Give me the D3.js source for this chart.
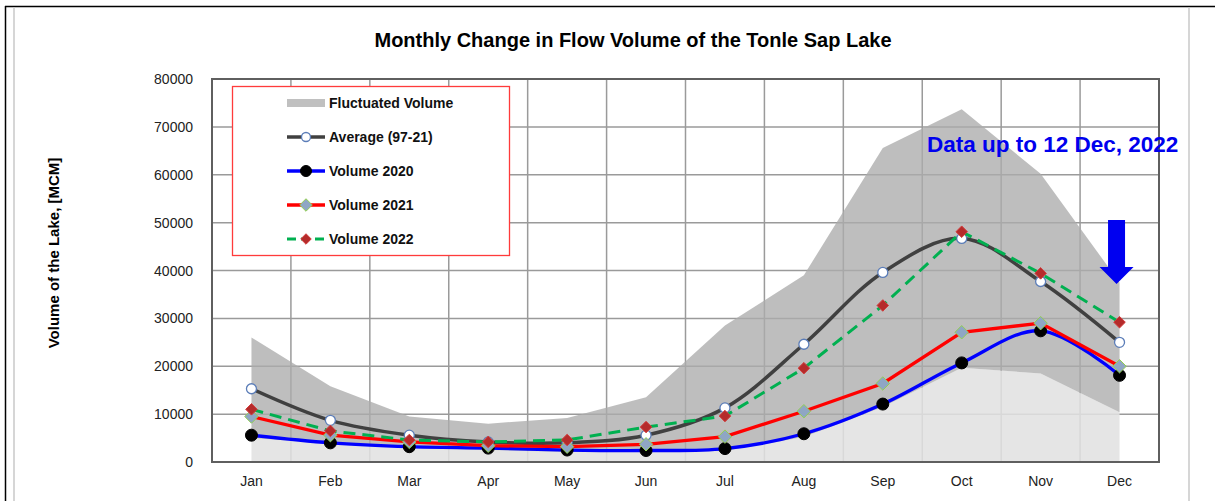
<!DOCTYPE html>
<html>
<head>
<meta charset="utf-8">
<script src="https://cdn.jsdelivr.net/npm/d3@7"></script>
<style>
  body { margin: 0; background: #fff; }
  text { font-family: "Liberation Sans", Arial, sans-serif; }
</style>
</head>
<body>
<div id="chart"></div>
<script>
// data (MCM)
var months = ["Jan","Feb","Mar","Apr","May","Jun","Jul","Aug","Sep","Oct","Nov","Dec"]
var volMax = [26000, 15800, 9500, 8000, 9200, 13500, 28500, 39000, 65600, 73700, 60200, 37500]
var volMin = [5000, 3900, 3000, 2500, 2100, 2100, 2300, 5200, 11500, 19700, 18500, 10400]
var avg9721 = [15300, 8700, 5600, 4200, 4000, 5600, 11300, 24600, 39600, 46700, 37700, 25000]
var vol2020 = [5600, 4000, 3200, 2900, 2500, 2400, 2800, 5900, 12100, 20700, 27400, 18100]
var vol2021 = [9500, 5600, 4200, 3400, 3200, 3700, 5300, 10600, 16400, 27100, 29000, 20000]
var vol2022 = [11000, 6500, 4600, 4200, 4600, 7300, 9600, 19600, 32700, 48100, 39400, 29200]
var yTicks = [0, 10000, 20000, 30000, 40000, 50000, 60000, 70000, 80000]

var width = 1215
var height = 501
var pLeft = 212, pRight = 1159, pTop = 79, pBottom = 462

var svg = d3.select("#chart")
  .append("svg")
    .attr("width", width)
    .attr("height", height)

var x = d3.scaleBand()
  .domain(months)
  .range([pLeft, pRight])
  .padding(0)

var y = d3.scaleLinear()
  .domain([0, 80000])
  .range([pBottom, pTop])

function cx(i){ return x(months[i]) + x.bandwidth() / 2 }

// outer frame
svg.append("line").attr("x1", 5).attr("x2", width).attr("y1", 6.5).attr("y2", 6.5)
  .attr("stroke", "#000").attr("stroke-width", 1.5)
svg.append("line").attr("x1", 5.5).attr("x2", 5.5).attr("y1", 6).attr("y2", height)
  .attr("stroke", "#000").attr("stroke-width", 1.5)
svg.append("line").attr("x1", 14).attr("x2", 14).attr("y1", 7).attr("y2", height)
  .attr("stroke", "#c8c8c8").attr("stroke-width", 1.5)
svg.append("line").attr("x1", 1189).attr("x2", 1189).attr("y1", 7).attr("y2", height)
  .attr("stroke", "#c8c8c8").attr("stroke-width", 1.5)

// title
svg.append("text")
  .attr("x", 633)
  .attr("y", 47)
  .attr("text-anchor", "middle")
  .attr("font-size", "20px")
  .attr("font-weight", "bold")
  .text("Monthly Change in Flow Volume of the Tonle Sap Lake")

// grid
var grid = svg.append("g")
grid.selectAll(".hg")
  .data(yTicks)
  .enter().append("line")
    .attr("x1", pLeft).attr("x2", pRight)
    .attr("y1", d => y(d)).attr("y2", d => y(d))
    .attr("stroke", "#9a9a9a").attr("stroke-width", 1.5)
grid.selectAll(".vg")
  .data(months.slice(1))
  .enter().append("line")
    .attr("x1", d => x(d)).attr("x2", d => x(d))
    .attr("y1", pTop).attr("y2", pBottom)
    .attr("stroke", "#9a9a9a").attr("stroke-width", 1.5)

// fluctuated volume: light area 0..min, dark band min..max
var idx = d3.range(months.length)
svg.append("path")
  .datum(idx)
  .attr("fill", "#e1e1e1").attr("fill-opacity", 0.87)
  .attr("d", d3.area().x(i => cx(i)).y0(y(0)).y1(i => y(volMin[i])))
svg.append("path")
  .datum(idx)
  .attr("fill", "#acacac").attr("fill-opacity", 0.78)
  .attr("d", d3.area().x(i => cx(i)).y0(i => y(volMin[i])).y1(i => y(volMax[i])))

// axes labels
svg.append("g").selectAll("text")
  .data(yTicks)
  .enter().append("text")
    .attr("x", 193)
    .attr("y", d => y(d) + 5)
    .attr("text-anchor", "end")
    .attr("font-size", "14px")
    .attr("fill", "#222")
    .text(d => d)

svg.append("g").selectAll("text")
  .data(months)
  .enter().append("text")
    .attr("x", d => x(d) + x.bandwidth() / 2)
    .attr("y", 486)
    .attr("text-anchor", "middle")
    .attr("font-size", "14px")
    .attr("fill", "#222")
    .text(d => d)

svg.append("text")
  .attr("transform", "translate(59,253) rotate(-90)")
  .attr("text-anchor", "middle")
  .attr("font-size", "15px")
  .attr("font-weight", "bold")
  .text("Volume of the Lake, [MCM]")

// plot border
svg.append("rect")
  .attr("x", pLeft).attr("y", pTop)
  .attr("width", pRight - pLeft).attr("height", pBottom - pTop)
  .attr("fill", "none").attr("stroke", "#5f5f5f").attr("stroke-width", 2)

// series
var diamond = d3.symbol().type(d3.symbolDiamond2)

function drawSeries(vals, opt){
  var line = d3.line()
    .x(i => cx(i))
    .y(i => y(vals[i]))
    .curve(opt.smooth ? d3.curveCatmullRom.alpha(0.5) : d3.curveLinear)
  svg.append("path")
    .datum(idx)
    .attr("fill", "none")
    .attr("stroke", opt.color)
    .attr("stroke-width", opt.width)
    .attr("stroke-dasharray", opt.dash || null)
    .attr("d", line)
  var g = svg.append("g")
  if (opt.marker == "circle"){
    g.selectAll("circle")
      .data(idx)
      .enter().append("circle")
        .attr("cx", i => cx(i)).attr("cy", i => y(vals[i]))
        .attr("r", opt.r)
        .attr("fill", opt.fill)
        .attr("stroke", opt.stroke)
        .attr("stroke-width", opt.sw)
  } else {
    g.selectAll("path")
      .data(idx)
      .enter().append("path")
        .attr("transform", i => "translate(" + cx(i) + "," + y(vals[i]) + ")")
        .attr("d", diamond.size(opt.size))
        .attr("fill", opt.fill)
        .attr("stroke", opt.stroke)
        .attr("stroke-width", opt.sw)
  }
}

var styles = {
  avg: {color: "#404040", width: 3.5, smooth: true, marker: "circle", r: 5, fill: "#fff", stroke: "#5b7db8", sw: 1.3},
  v2020: {color: "#0000ff", width: 3.3, smooth: true, marker: "circle", r: 6, fill: "#000", stroke: "#000", sw: 1},
  v2021: {color: "#ff0000", width: 3.3, smooth: false, marker: "diamond", size: 115, fill: "#8fa6c4", stroke: "#92d050", sw: 1},
  v2022: {color: "#00b050", width: 3, smooth: false, dash: "12,7", marker: "diamond", size: 85, fill: "#b52b2b", stroke: "#d23c3c", sw: 1}
}

drawSeries(avg9721, styles.avg)
drawSeries(vol2020, styles.v2020)
drawSeries(vol2021, styles.v2021)
drawSeries(vol2022, styles.v2022)

// legend
var legend = svg.append("g")
legend.append("rect")
  .attr("x", 232.5).attr("y", 86.5)
  .attr("width", 277).attr("height", 169)
  .attr("fill", "#fff").attr("stroke", "#ff3b3b").attr("stroke-width", 1.3)

var legendItems = [
  {name: "Fluctuated Volume", key: "area"},
  {name: "Average (97-21)", key: "avg"},
  {name: "Volume 2020", key: "v2020"},
  {name: "Volume 2021", key: "v2021"},
  {name: "Volume 2022", key: "v2022"}
]

legendItems.forEach(function(d, k){
  var ly = 103 + k * 34
  if (d.key == "area"){
    legend.append("rect").attr("x", 287).attr("y", ly - 4).attr("width", 38).attr("height", 8)
      .attr("fill", "#c0c0c0")
  } else {
    var s = styles[d.key]
    legend.append("line").attr("x1", 287).attr("x2", 325).attr("y1", ly).attr("y2", ly)
      .attr("stroke", s.color).attr("stroke-width", s.width)
      .attr("stroke-dasharray", s.dash ? "9,5" : null)
    if (s.marker == "circle"){
      legend.append("circle").attr("cx", 306).attr("cy", ly).attr("r", s.r - 0.5)
        .attr("fill", s.fill).attr("stroke", s.stroke).attr("stroke-width", s.sw)
    } else {
      legend.append("path").attr("transform", "translate(306," + ly + ")")
        .attr("d", diamond.size(s.size - 15))
        .attr("fill", s.fill).attr("stroke", s.stroke).attr("stroke-width", s.sw)
    }
  }
  legend.append("text")
    .attr("x", 329).attr("y", ly + 5)
    .attr("font-size", "14px")
    .attr("font-weight", "bold")
    .attr("fill", "#111")
    .text(d.name)
})

// annotation
svg.append("text")
  .attr("x", 927).attr("y", 152)
  .attr("font-family", "Lato, 'Open Sans', sans-serif")
  .attr("font-size", "22.5px")
  .attr("font-weight", "bold")
  .attr("fill", "#0000ee")
  .text("Data up to 12 Dec, 2022")

var ax = cx(11) - 3
svg.append("path")
  .attr("d", "M" + (ax - 8.5) + ",220 H" + (ax + 8.5) + " V267 H" + (ax + 17) +
    " L" + ax + ",284 L" + (ax - 17) + ",267 H" + (ax - 8.5) + " Z")
  .attr("fill", "#0000f0")
</script>
</body>
</html>
